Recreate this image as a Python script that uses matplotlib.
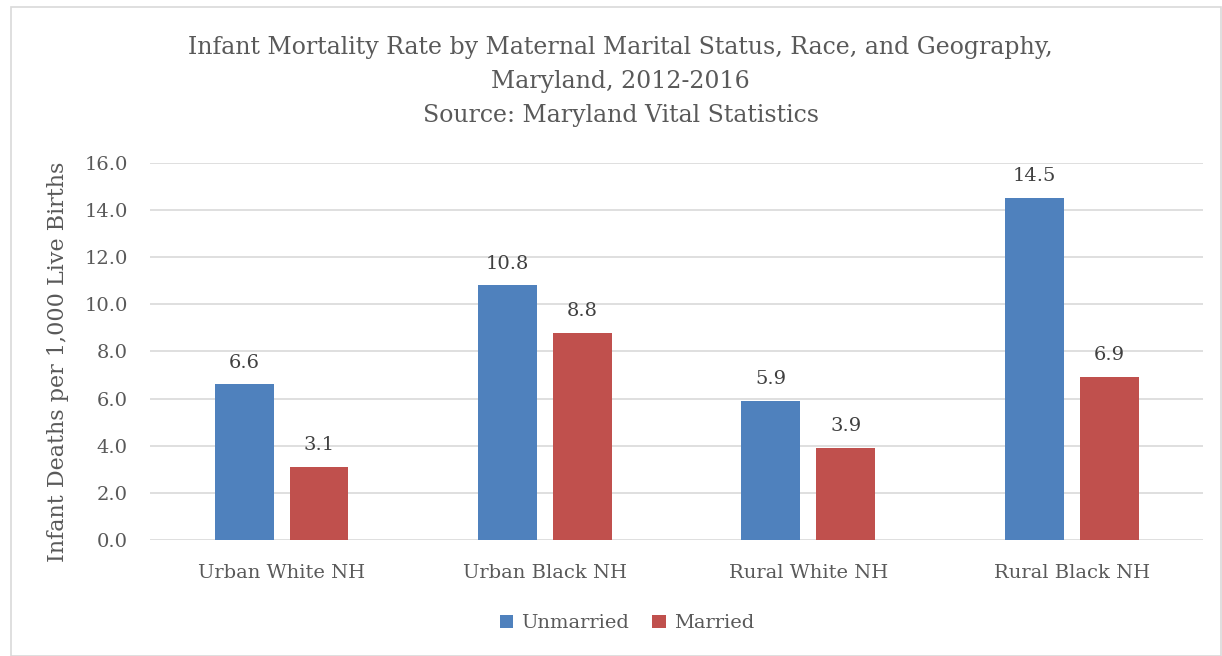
import numpy as np
import matplotlib.pyplot as plt
from matplotlib.patches import Rectangle

categories = ['Urban White NH', 'Urban Black NH', 'Rural White NH', 'Rural Black NH']
unmarried = [6.6, 10.8, 5.9, 14.5]
married = [3.1, 8.8, 3.9, 6.9]
yticks = [0, 2, 4, 6, 8, 10, 12, 14, 16]

plt.rcParams['font.family'] = ['DejaVu Serif']
txt = '#595959'

fig = plt.figure(figsize=(12.22, 6.56), dpi=100)
ax = fig.add_axes([0.1227, 0.1768, 0.862, 0.5748])

# chart border
fig.patches.append(Rectangle((11 / 1222, 0), 1 - 11 / 1222 - 0.001, 1 - 7 / 656,
                             transform=fig.transFigure, fill=False,
                             edgecolor='#D9D9D9', linewidth=1.2))

x = np.arange(len(categories))
w = 0.224
off = 0.142
b1 = ax.bar(x - off, unmarried, w, color='#4F81BD', label='Unmarried', zorder=3)
b2 = ax.bar(x + off, married, w, color='#C0504D', label='Married', zorder=3)

for bars in (b1, b2):
    for r in bars:
        ax.text(r.get_x() + r.get_width() / 2, r.get_height() + 0.55,
                '%.1f' % r.get_height(), ha='center', va='bottom',
                fontsize=14, color='#404040')

ax.set_xlim(-0.5, 3.5)
ax.set_ylim(0, 16)
ax.set_yticks(yticks)
ax.set_yticklabels(['%.1f' % v for v in yticks])
ax.set_xticks(x)
ax.set_xticklabels(categories)
ax.tick_params(axis='both', length=0, labelsize=14, colors=txt)
ax.tick_params(axis='x', pad=17.5)
ax.tick_params(axis='y', pad=16)
ax.grid(axis='y', color='#D9D9D9', linewidth=1.2, zorder=0)
for s in ax.spines.values():
    s.set_visible(False)

ax.set_ylabel('Infant Deaths per 1,000 Live Births', fontsize=16, color=txt)
ax.yaxis.set_label_coords(-0.0766, 0.472)

fig.text(0.508, 0.807,
         'Infant Mortality Rate by Maternal Marital Status, Race, and Geography,\n'
         'Maryland, 2012-2016\nSource: Maryland Vital Statistics',
         ha='center', va='bottom', fontsize=17, color=txt, linespacing=1.6)

fig.legend(handles=[b1, b2], loc='center', bbox_to_anchor=(0.513, 0.05), ncol=2,
           frameon=False, fontsize=14, handlelength=0.7, handleheight=0.7,
           columnspacing=1.2, handletextpad=0.4, labelcolor=txt)

fig.savefig('out.png', dpi=100)
